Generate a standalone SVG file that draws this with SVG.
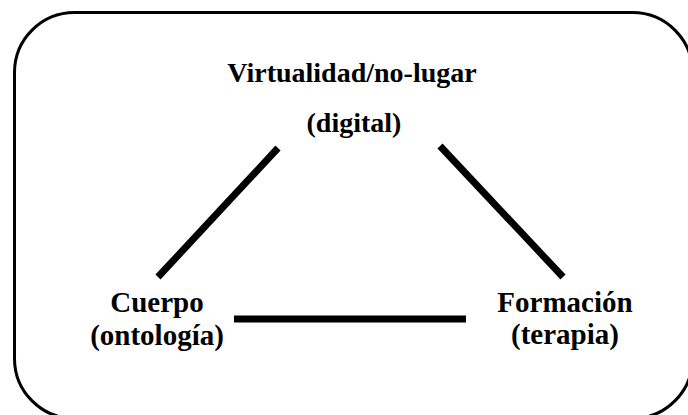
<svg xmlns="http://www.w3.org/2000/svg" width="688" height="415" viewBox="0 0 688 415">
<style>
.t{font-family:"Liberation Serif","Times New Roman",serif;font-weight:bold;font-size:28px;fill:#000;text-anchor:middle}
.b{font-size:29px}
.c{stroke:#000;stroke-width:7;fill:none}
</style>
<rect x="0" y="0" width="688" height="415" fill="#fff"/>
<rect x="14.5" y="12.5" width="678" height="406" rx="60" ry="60" fill="none" stroke="#000" stroke-width="3"/>
<g id="connectors">
<line class="c" x1="278" y1="148" x2="158" y2="277"/>
<line class="c" x1="440" y1="146" x2="563" y2="277"/>
<line class="c" x1="234" y1="319" x2="466" y2="319"/>
</g>
<g id="virtualidad">
<text class="t" x="352" y="82">Virtualidad/no-lugar</text>
<text class="t" x="354" y="132">(digital)</text>
</g>
<g id="cuerpo">
<text class="t b" x="157" y="312">Cuerpo</text>
<text class="t b" x="157" y="345">(ontología)</text>
</g>
<g id="formacion">
<text class="t b" x="565" y="312">Formación</text>
<text class="t b" x="565" y="344">(terapia)</text>
</g>
</svg>
